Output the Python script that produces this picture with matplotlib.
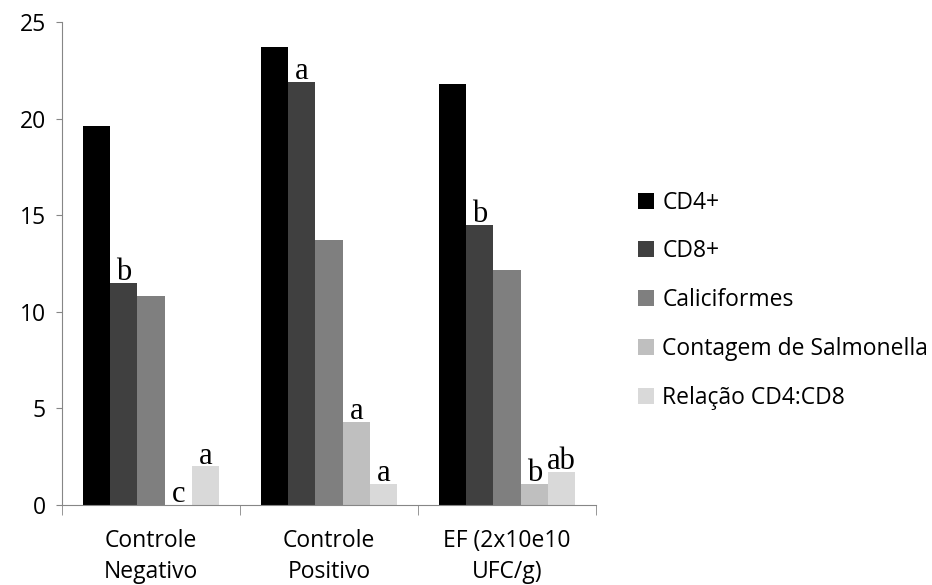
import matplotlib
matplotlib.use("Agg")
import matplotlib.pyplot as plt
import numpy as np

groups = ["Controle\nNegativo", "Controle\nPositivo", "EF (2x10e10\nUFC/g)"]
series = ["CD4+", "CD8+", "Caliciformes", "Contagem de Salmonella", "Relação CD4:CD8"]
cd4 = [19.6, 23.7, 21.8]
cd8 = [11.5, 21.9, 14.5]
calic = [10.8, 13.7, 12.15]
salm = [0.0, 4.3, 1.1]
rel = [2.0, 1.1, 1.7]
letters_cd8 = ["b", "a", "b"]
letters_salm = ["c", "a", "b"]
letters_rel = ["a", "a", "ab"]

colors = ["#000000", "#404040", "#7f7f7f", "#bfbfbf", "#d9d9d9"]
values = [cd4, cd8, calic, salm, rel]
letters = {1: letters_cd8, 3: letters_salm, 4: letters_rel}

fig = plt.figure(figsize=(9.32, 5.85), dpi=100)
ax = fig.add_axes([0.0665, 0.1368, 0.573, 0.8256])

x = np.arange(len(groups))
w = 0.153
for i, (vals, c, name) in enumerate(zip(values, colors, series)):
    pos = x + (i - 2) * w
    ax.bar(pos, vals, width=w, color=c, label=name, linewidth=0)
    if i in letters:
        for p, v, t in zip(pos, vals, letters[i]):
            ax.annotate(t, (p, v), xytext=(0, 2), textcoords="offset points",
                        ha="center", va="baseline", fontsize=22,
                        family="Liberation Serif")

ax.set_xlim(-0.5, 2.5)
ax.set_ylim(0, 25)
ax.set_yticks([0, 5, 10, 15, 20, 25])
ax.set_xticks(x)
ax.set_xticklabels(groups, fontsize=16.5, family="Open Sans", color="#000000",
                   linespacing=1.42)
ax.set_xticks([-0.5, 0.5, 1.5, 2.5], minor=True)
ax.tick_params(axis="x", which="major", length=0, pad=17)
ax.tick_params(axis="x", which="minor", length=7.5, color="#868686", direction="out")
ax.tick_params(axis="y", length=4.5, color="#868686", pad=7, labelsize=16.5)
for lab in ax.get_yticklabels():
    lab.set_family("Open Sans")
for s in ["top", "right"]:
    ax.spines[s].set_visible(False)
for s in ["left", "bottom"]:
    ax.spines[s].set_color("#868686")

fig.legend(loc="center left", bbox_to_anchor=(0.675, 0.487), frameon=False,
           prop={"family": "Open Sans", "size": 16.5},
           handlelength=0.7, handleheight=0.7, handletextpad=0.35,
           labelspacing=1.08, borderaxespad=0)

fig.savefig("out.png", dpi=100)
